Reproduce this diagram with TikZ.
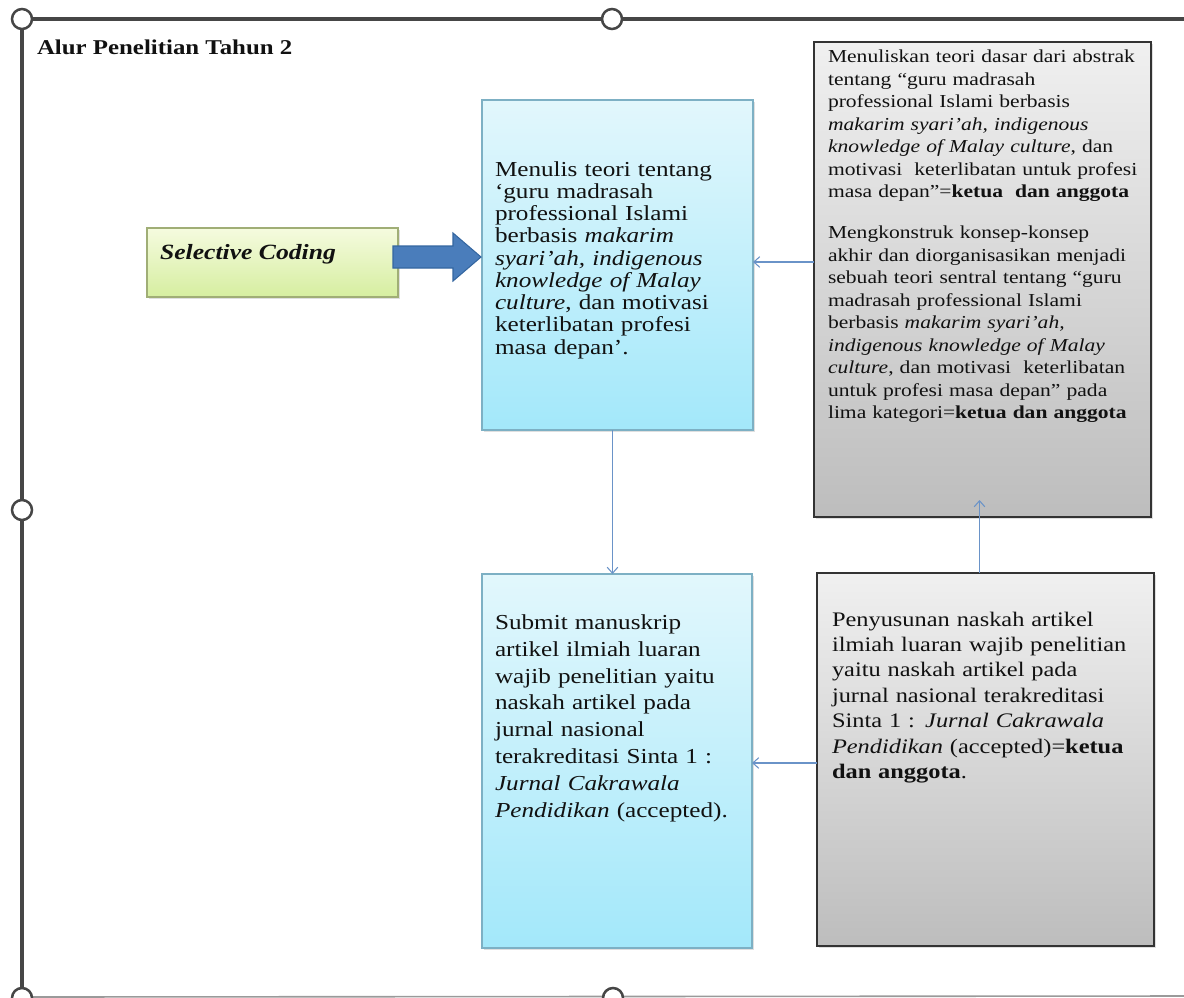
\documentclass[tikz,border=0pt]{standalone}
\usepackage{fontspec}
\setmainfont{Liberation Serif}[FakeStretch=1.18]
\usetikzlibrary{arrows.meta,calc,shadows}
\definecolor{frameline}{HTML}{464646}
\definecolor{framelight}{HTML}{9A9A9A}
\definecolor{bluetop}{HTML}{E2F7FC}
\definecolor{bluebot}{HTML}{A3E8FA}
\definecolor{blueedge}{HTML}{7DB0C4}
\definecolor{graytop}{HTML}{F0F0F0}
\definecolor{graybot}{HTML}{BDBDBD}
\definecolor{grayedge}{HTML}{333333}
\definecolor{greentop}{HTML}{F5FBDF}
\definecolor{greenbot}{HTML}{D6EEA0}
\definecolor{greenedge}{HTML}{A0AE76}
\definecolor{arrowfill}{HTML}{4A7DBB}
\definecolor{arrowedge}{HTML}{3466A0}
\definecolor{connblue}{HTML}{6A93C8}
\definecolor{ink}{HTML}{111111}
\begin{document}
\begin{tikzpicture}[x=0.75pt,y=-0.75pt,
  handle/.style={circle,draw=frameline,line width=1.9pt,fill=white,minimum size=15pt,inner sep=0pt},
  boxbase/.style={rectangle,anchor=north west,inner sep=0pt,outer sep=0pt},
  bluebox/.style={boxbase,draw=blueedge,line width=0.9pt,top color=bluetop,bottom color=bluebot,
    drop shadow={opacity=0.25,shadow xshift=1.2pt,shadow yshift=-1.5pt}},
  graybox/.style={boxbase,draw=grayedge,line width=1.5pt,top color=graytop,bottom color=graybot,
    drop shadow={opacity=0.25,shadow xshift=1.2pt,shadow yshift=-1.5pt}},
  greenbox/.style={boxbase,draw=greenedge,line width=0.9pt,top color=greentop,bottom color=greenbot,
    drop shadow={opacity=0.25,shadow xshift=1.2pt,shadow yshift=-1.5pt}},
  txt/.style={anchor=base west,inner sep=0pt,outer sep=0pt,align=left,text=ink},
  conn/.style={draw=connblue,line width=0.8pt,-{Straight Barb[length=4.5pt,width=8pt]}},
  bigarrow/.style={fill=arrowfill,draw=arrowedge,line width=0.8pt,line join=miter}
]
\useasboundingbox (0,0) rectangle (1184,997);

% frame
\coordinate (ftl) at (22,19);
\coordinate (ftr) at (1184,19);
\coordinate (fbl) at (22,997);
\coordinate (fbr) at (1184,996);
\draw[framelight,line width=1.2pt] (fbl) -- (fbr);
\draw[frameline,line width=2.8pt] (ftl) -- (ftr);
\draw[frameline,line width=2.4pt] (ftl) -- (fbl);
\node[handle] (h1) at (22,19) {};
\node[handle] (h2) at (612,19) {};
\node[handle] (h3) at (22,510) {};
\node[handle] (h4) at (22,998) {};
\node[handle] (h5) at (613,998) {};

% title
\node[txt,font=\fontsize{15.8pt}{18pt}\selectfont\bfseries] (title) at (37,54) {Alur Penelitian Tahun 2};

% boxes
\node[greenbox,minimum width=188.25pt,minimum height=51.75pt] (green) at (147,228) {};
\node[bluebox,minimum width=203.25pt,minimum height=247.5pt] (b1) at (482,100) {};
\node[bluebox,minimum width=202.5pt,minimum height=280.5pt] (b2) at (482,574) {};
\node[graybox,minimum width=252.75pt,minimum height=356.25pt] (g1) at (814,42) {};
\node[graybox,minimum width=252.75pt,minimum height=279.75pt] (g2) at (817,573) {};

% big block arrow
\path[bigarrow] (393,246) -- (453,246) -- (453,233) -- (481,257) -- (453,281) -- (453,268) -- (393,268) -- cycle;

% texts
\node[txt,font=\fontsize{16.3pt}{19pt}\selectfont\bfseries\itshape] (seltxt) at (160,259) {Selective Coding};

\node[txt,text width=200pt,font=\fontsize{16pt}{16.7pt}\selectfont] (b1t) at (495,176) {%
Menulis teori tentang\\
‘guru madrasah\\
professional Islami\\
berbasis \textit{makarim}\\
\textit{syari’ah, indigenous}\\
\textit{knowledge of Malay}\\
\textit{culture}, dan motivasi\\
keterlibatan profesi\\
masa depan’.};

\node[txt,text width=250pt,font=\fontsize{13.7pt}{16.9pt}\selectfont] (g1ta) at (828,62.5) {%
Menuliskan teori dasar dari abstrak\\
tentang “guru madrasah\\
professional Islami berbasis\\
\textit{makarim syari’ah, indigenous}\\
\textit{knowledge of Malay culture}, dan\\
motivasi\ \ keterlibatan untuk profesi\\
masa depan”=\textbf{ketua\ \ dan anggota}};

\node[txt,text width=250pt,font=\fontsize{13.7pt}{16.9pt}\selectfont] (g1tb) at (828,238.5) {%
Mengkonstruk konsep-konsep\\
akhir dan diorganisasikan menjadi\\
sebuah teori sentral tentang “guru\\
madrasah professional Islami\\
berbasis \textit{makarim syari’ah,}\\
\textit{indigenous knowledge of Malay}\\
\textit{culture}, dan motivasi\ \ keterlibatan\\
untuk profesi masa depan” pada\\
lima kategori=\textbf{ketua dan anggota}};

\node[txt,text width=200pt,font=\fontsize{16pt}{20.1pt}\selectfont] (b2t) at (495,629.5) {%
Submit manuskrip\\
artikel ilmiah luaran\\
wajib penelitian yaitu\\
naskah artikel pada\\
jurnal nasional\\
terakreditasi Sinta 1 :\\
\textit{Jurnal Cakrawala}\\
\textit{Pendidikan} (accepted).};

\node[txt,text width=250pt,font=\fontsize{15.5pt}{19.1pt}\selectfont] (g2t) at (832,626) {%
Penyusunan naskah artikel\\
ilmiah luaran wajib penelitian\\
yaitu naskah artikel pada\\
jurnal nasional terakreditasi\\
Sinta 1 : \textit{Jurnal Cakrawala}\\
\textit{Pendidikan} (accepted)=\textbf{ketua}\\
\textbf{dan anggota}.};

% connectors
\coordinate (g2top) at ($(g2.north)+(-6,0)$);
\coordinate (g1in) at ($(g2top |- g1.south)+(0,-17)$);
\coordinate (b1bot) at ($(b1.south)+(-5,0)$);
\coordinate (b2top) at (b1bot |- b2.north);
\coordinate (b1right) at ($(b1.east)+(0,-3)$);
\coordinate (b2right) at ($(b2.east)+(0,2)$);
\draw[conn] (g1.west |- b1right) -- (b1right);
\draw[conn] (b1bot) -- (b2top);
\draw[conn] (g2.west |- b2right) -- (b2right);
\draw[conn] (g2top) -- (g1in);
\end{tikzpicture}
\end{document}
